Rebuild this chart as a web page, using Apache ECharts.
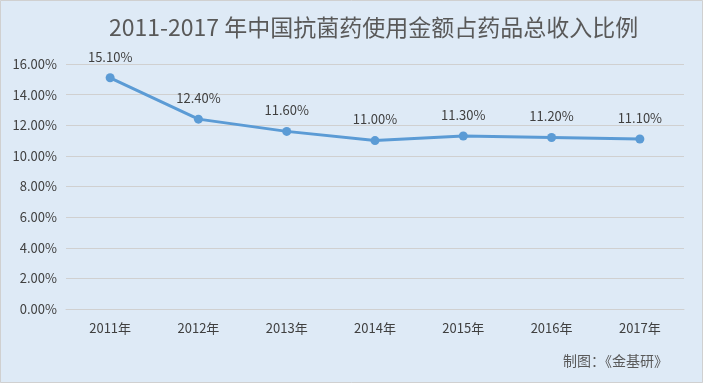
<!DOCTYPE html>
<html><head><meta charset="utf-8">
<script src="https://cdn.jsdelivr.net/npm/echarts@6/dist/echarts.min.js"></script>
<style>html,body{margin:0;padding:0;background:#fff}#c{width:703px;height:383px;}</style>
</head><body><div id="c"></div>
<script>
const categories = ['2011年','2012年','2013年','2014年','2015年','2016年','2017年'];
const ratios = [15.10, 12.40, 11.60, 11.00, 11.30, 11.20, 11.10];
const yTicks = [0, 2, 4, 6, 8, 10, 12, 14, 16];
const chart = echarts.init(document.getElementById('c'));
const font = '"Microsoft YaHei","Noto Sans CJK SC","Open Sans",sans-serif';
chart.setOption({
  backgroundColor: '#DEEAF6',
  title: {
    text: '2011-2017 年中国抗菌药使用金额占药品总收入比例',
    left: 104, top: 11,
    textStyle: {fontSize: 23, fontWeight: 'normal', color: '#595959', fontFamily: font}
  },
  graphic: [
    {type: 'rect', shape: {x: 0.5, y: 0.5, width: 702, height: 382}, style: {fill: 'none', stroke: '#D0D0D0', lineWidth: 1}},
    {type: 'text', right: 35, top: 354, style: {text: '制图：《金基研》', fill: '#595959', font: '14px ' + font}}
  ],
  grid: {left: 66, right: 19, top: 64, bottom: 74},
  xAxis: {
    type: 'category', data: categories, boundaryGap: true,
    axisLine: {show: true, lineStyle: {color: '#D0D0D0'}},
    axisTick: {show: false},
    axisLabel: {color: '#404040', fontSize: 13, margin: 13, fontFamily: font}
  },
  yAxis: {
    type: 'value', min: yTicks[0], max: yTicks[yTicks.length-1], interval: 2,
    axisLine: {show: false}, axisTick: {show: false},
    splitLine: {lineStyle: {color: '#D0D0D0'}},
    axisLabel: {color: '#404040', fontSize: 13, margin: 9, fontFamily: font,
      formatter: v => v.toFixed(2) + '%'}
  },
  series: [{
    type: 'line', data: ratios,
    lineStyle: {color: '#5B9BD5', width: 3},
    itemStyle: {color: '#5B9BD5'},
    symbol: 'circle', symbolSize: 9,
    label: {show: true, position: 'top', distance: 10, color: '#404040', fontSize: 13, fontFamily: font,
      formatter: p => p.value.toFixed(2) + '%'}
  }]
});
</script></body></html>
